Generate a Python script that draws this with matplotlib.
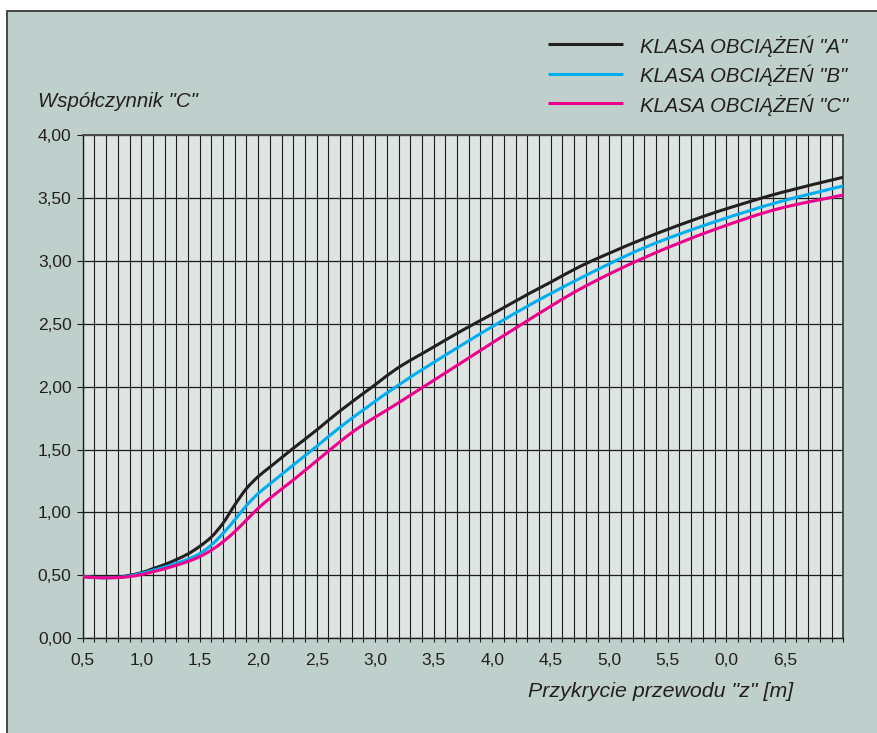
import matplotlib
matplotlib.use("Agg")
import numpy as np
import matplotlib.pyplot as plt
from matplotlib.lines import Line2D
from matplotlib.patches import Rectangle, PathPatch
from matplotlib.path import Path
from matplotlib.ticker import MultipleLocator, FixedLocator, FixedFormatter

# ---- data -------------------------------------------------------------
series_names = ['KLASA OBCIĄŻEŃ "A"', 'KLASA OBCIĄŻEŃ "B"', 'KLASA OBCIĄŻEŃ "C"']
series_colors = ["#231f20", "#00aeef", "#ec008c"]

z_a = [0.5, 0.6, 0.7, 0.8, 0.9, 1.0, 1.1, 1.2, 1.3, 1.4, 1.5, 1.6, 1.7, 1.8,
       1.9, 2.0, 2.1, 2.3, 2.5, 2.69, 3.0, 3.18, 3.5, 3.75, 4.0, 4.32, 4.5,
       4.75, 5.0, 5.32, 5.5, 5.89, 6.0, 6.46, 7.0]
c_a = [0.49, 0.483, 0.482, 0.485, 0.50, 0.52, 0.553, 0.585, 0.625, 0.67,
       0.73, 0.805, 0.915, 1.06, 1.19, 1.285, 1.36, 1.51, 1.655, 1.80, 2.015,
       2.14, 2.315, 2.45, 2.576, 2.742, 2.83, 2.955, 3.06, 3.185, 3.25,
       3.38, 3.413, 3.54, 3.664]

z_b = [0.5, 0.6, 0.7, 0.8, 0.9, 1.0, 1.1, 1.2, 1.3, 1.4, 1.5, 1.6, 1.7, 1.8,
       1.9, 2.0, 2.1, 2.3, 2.5, 2.67, 3.18, 3.75, 4.32, 4.75, 5.32, 5.89,
       6.46, 7.0]
c_b = [0.49, 0.483, 0.48, 0.483, 0.495, 0.515, 0.54, 0.565, 0.595, 0.628,
       0.672, 0.741, 0.834, 0.94, 1.055, 1.15, 1.226, 1.377, 1.525, 1.655,
       2.0, 2.336, 2.649, 2.86, 3.112, 3.306, 3.47, 3.595]

z_c = [0.5, 0.6, 0.7, 0.8, 0.9, 1.0, 1.1, 1.2, 1.3, 1.4, 1.5, 1.6, 1.7, 1.8,
       1.9, 2.0, 2.1, 2.3, 2.5, 2.69, 2.83, 3.18, 3.75, 4.32, 4.75, 5.32,
       5.89, 6.46, 7.0]
c_c = [0.49, 0.482, 0.48, 0.482, 0.49, 0.505, 0.528, 0.552, 0.58, 0.61,
       0.648, 0.70, 0.767, 0.847, 0.94, 1.033, 1.112, 1.258, 1.41, 1.555,
       1.655, 1.86, 2.198, 2.535, 2.775, 3.033, 3.245, 3.417, 3.523]

x_tick_pos = [0.5, 1.0, 1.5, 2.0, 2.5, 3.0, 3.5, 4.0, 4.5, 5.0, 5.5, 6.0, 6.5]
x_tick_labels = ["0,5", "1,0", "1,5", "2,0", "2,5", "3,0", "3,5", "4,0",
                 "4,5", "5,0", "5,5", "0,0", "6,5"]
y_tick_pos = [0.0, 0.5, 1.0, 1.5, 2.0, 2.5, 3.0, 3.5, 4.0]
y_tick_labels = ["0,00", "0,50", "1,00", "1,50", "2,00", "2,50", "3,00",
                 "3,50", "4,00"]

y_title = 'Współczynnik "C"'
x_title = 'Przykrycie przewodu "z" [m]'

# ---- styling ----------------------------------------------------------
FONT = ["Liberation Sans Narrow", "Liberation Sans", "DejaVu Sans"]
plt.rcParams["font.family"] = FONT

W, H = 878, 733
fig = plt.figure(figsize=(W / 100, H / 100), dpi=100)
fig.patch.set_facecolor("white")


def fx(px):
    return px / W


def fy(py):
    return 1 - py / H


def smooth_path(x, y):
    """Cubic Bezier path through the points (monotone Hermite tangents)."""
    x = np.asarray(x, float)
    y = np.asarray(y, float)
    h = np.diff(x)
    d = np.diff(y) / h
    m = np.zeros_like(y)
    m[0], m[-1] = d[0], d[-1]
    for i in range(1, len(x) - 1):
        if d[i - 1] * d[i] <= 0:
            m[i] = 0.0
        else:
            w1 = 2 * h[i] + h[i - 1]
            w2 = h[i] + 2 * h[i - 1]
            m[i] = (w1 + w2) / (w1 / d[i - 1] + w2 / d[i])
    verts = [(x[0], y[0])]
    codes = [Path.MOVETO]
    for i in range(len(x) - 1):
        verts += [(x[i] + h[i] / 3, y[i] + m[i] * h[i] / 3),
                  (x[i + 1] - h[i] / 3, y[i + 1] - m[i + 1] * h[i] / 3),
                  (x[i + 1], y[i + 1])]
        codes += [Path.CURVE4] * 3
    return Path(verts, codes)


# panel behind the chart
panel = Rectangle((fx(7), fy(H + 10)), fx(W + 10) - fx(7), fy(11) - fy(H + 10),
                  transform=fig.transFigure, facecolor="#bfd0cc",
                  edgecolor="#3a3a3a", linewidth=1.3, zorder=0)
fig.add_artist(panel)

ax = fig.add_axes([fx(82.7), fy(638.2), fx(843.2) - fx(82.7), fy(135) - fy(638.2)])
ax.set_facecolor("#dde4e1")
ax.set_xlim(0.5, 7.0)
ax.set_ylim(0.0, 4.0)

ax.xaxis.set_major_locator(FixedLocator(x_tick_pos))
ax.xaxis.set_major_formatter(FixedFormatter(x_tick_labels))
ax.xaxis.set_minor_locator(MultipleLocator(0.1))
ax.yaxis.set_major_locator(FixedLocator(y_tick_pos))
ax.yaxis.set_major_formatter(FixedFormatter(y_tick_labels))
ax.grid(True, which="both", axis="x", color="#1c1c1c", linewidth=0.8)
ax.grid(True, which="major", axis="y", color="#1c1c1c", linewidth=0.9)
ax.set_axisbelow(True)

ax.tick_params(axis="x", which="both", direction="out", length=3, width=0.8,
               color="#1c1c1c", pad=8, labelsize=12.5, labelcolor="#231f20")
ax.tick_params(axis="y", which="major", direction="out", length=4, width=0.8,
               color="#1c1c1c", pad=4, labelsize=12.5, labelcolor="#231f20")

for side in ("left", "bottom"):
    ax.spines[side].set_color("#1c1c1c")
    ax.spines[side].set_linewidth(1.0)
for side in ("top", "right"):
    ax.spines[side].set_color("#4a4a4a")
    ax.spines[side].set_linewidth(1.4)

# curves
for z, c, col in zip([z_a, z_b, z_c], [c_a, c_b, c_c], series_colors):
    ax.add_patch(PathPatch(smooth_path(z, c), facecolor="none", edgecolor=col,
                           linewidth=2.2, capstyle="butt", zorder=3))

# legend, drawn as a stacked list in the top right
row_y = [44.3, 73.7, 103.3]
for name, col, ry in zip(series_names, series_colors, row_y):
    fig.add_artist(Line2D([fx(548.3), fx(623.3)], [fy(ry), fy(ry)],
                          transform=fig.transFigure, color=col, linewidth=2.2,
                          solid_capstyle="butt"))
    fig.text(fx(640), fy(ry + 8.5), name, ha="left", va="baseline",
             fontsize=14.6, style="italic", color="#231f20")

# axis titles
fig.text(fx(38), fy(106.7), y_title, ha="left", va="baseline",
         fontsize=14.7, style="italic", color="#231f20")
fig.text(fx(793), fy(697), x_title, ha="right", va="baseline",
         fontsize=15.4, style="italic", color="#231f20")

fig.savefig("out.png", dpi=100, facecolor=fig.get_facecolor())
